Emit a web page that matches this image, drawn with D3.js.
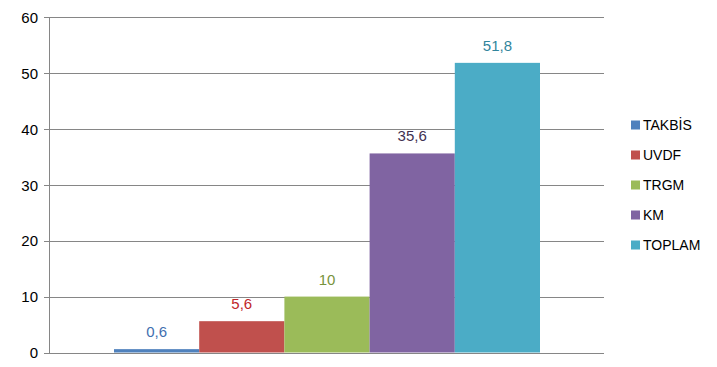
<!DOCTYPE html>
<html><head><meta charset="utf-8">
<script src="https://cdn.jsdelivr.net/npm/d3@7"></script>
<style>body{margin:0;background:#fff;} svg{display:block;}</style>
</head><body>
<svg id="c" width="717" height="367"></svg>
<script>
const series = ["TAKBİS","UVDF","TRGM","KM","TOPLAM"];
const values = [0.6, 5.6, 10, 35.6, 51.8];
const labels = ["0,6","5,6","10","35,6","51,8"];
const yTicks = [0,10,20,30,40,50,60];
const colors = ["#4F81BD","#C0504D","#9BBB59","#8064A2","#4BACC6"];
const labelColors = ["#3F6FAF","#C0262A","#77933C","#3F3151","#31859C"];

(function(){
const svg = d3.select("#c");
const font = "'Liberation Sans', Arial, sans-serif";
const pLeft = 49, pRight = 604, pTop = 17, pBottom = 352.5;
const y = d3.scaleLinear().domain([0,60]).range([pBottom, pTop]);
const x = d3.scaleBand().domain(series).range([114, 540]).padding(0);

const yAxis = d3.axisLeft(y).tickValues(yTicks).tickSize(-(pRight-pLeft)).tickPadding(11).tickFormat(d3.format("d"));
const g = svg.append("g").attr("transform", `translate(${pLeft},0)`).call(yAxis);
g.select(".domain").remove();
g.selectAll(".tick line").attr("stroke","#868686").attr("stroke-width",1).attr("x1",-5).attr("x2",pRight-pLeft)
  .attr("shape-rendering","crispEdges");
g.selectAll(".tick text").attr("font-family",font).attr("font-size",15).attr("fill","#000").attr("dy","0.35em");
svg.append("line").attr("x1",pLeft+0.5).attr("x2",pLeft+0.5).attr("y1",pTop).attr("y2",pBottom)
  .attr("stroke","#868686").attr("shape-rendering","crispEdges");

svg.selectAll("rect.bar").data(values).join("rect").attr("class","bar")
  .attr("x",(d,i)=>x(series[i])).attr("width",x.bandwidth())
  .attr("y",d=>y(d)).attr("height",d=>pBottom-y(d)).attr("fill",(d,i)=>colors[i]);

svg.selectAll("text.lbl").data(values).join("text").attr("class","lbl")
  .attr("x",(d,i)=>x(series[i])+x.bandwidth()/2).attr("y",d=>y(d)-12)
  .attr("text-anchor","middle").attr("font-family",font).attr("font-size",15)
  .attr("fill",(d,i)=>labelColors[i]).text((d,i)=>labels[i]);

const lg = svg.append("g").attr("transform","translate(631,125)");
series.forEach((s,i)=>{
  const row = lg.append("g").attr("transform",`translate(0,${i*30})`);
  row.append("rect").attr("x",0).attr("y",-4.5).attr("width",9).attr("height",9).attr("fill",colors[i]);
  row.append("text").attr("x",12).attr("y",0).attr("dy","0.35em").attr("font-family",font).attr("font-size",14)
    .attr("fill","#000").text(s);
});
})();
</script>
</body></html>
